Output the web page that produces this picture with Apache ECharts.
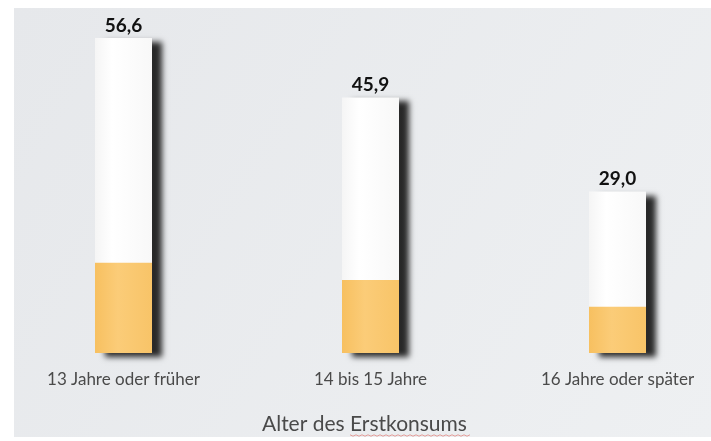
<!DOCTYPE html>
<html><head><meta charset="utf-8">
<script src="https://cdn.jsdelivr.net/npm/echarts@6/dist/echarts.min.js"></script>
<style>html,body{margin:0;padding:0;background:#fff}#c{width:711px;height:441px}</style>
</head><body><div id="c"></div>
<script>
var categories = ['13 Jahre oder früher', '14 bis 15 Jahre', '16 Jahre oder später'];
var totalValues = [56.6, 45.9, 29.0];
var filterValues = [16.2, 13.1, 8.3];
var axisTitle = 'Alter des Erstkonsums';

var FONT = 'Lato, "Open Sans", sans-serif';
var squiggle = [];
for (var i = 0; i <= 40; i++) { squiggle.push([350 + i * 3, 435 + (i % 2 ? 1.2 : -0.2)]); }

var chart = echarts.init(document.getElementById('c'), null, {renderer: 'canvas'});
chart.setOption({
  animation: false,
  backgroundColor: '#ffffff',
  graphic: [{
    type: 'rect', z: -10, silent: true,
    shape: {x: 14, y: 8, width: 697, height: 429},
    style: {fill: new echarts.graphic.LinearGradient(0, 0, 1, 1, [
      {offset: 0, color: '#e6e8eb'}, {offset: 1, color: '#eef0f2'}])}
  }, {
    type: 'text', left: 262, top: 414,
    style: {text: axisTitle, font: '21px ' + FONT, fill: '#4a4a4a'}
  }, {
    type: 'polyline', silent: true,
    shape: {points: squiggle},
    style: {stroke: 'rgba(220,90,80,0.55)', lineWidth: 1, fill: null}
  }],
  grid: {left: 0, top: 19, width: 741, height: 334, containLabel: false, outerBoundsMode: 'none'},
  xAxis: {
    type: 'category', data: categories,
    axisLine: {show: false}, axisTick: {show: false},
    axisLabel: {color: '#4a4a4a', fontSize: 17, fontFamily: FONT, margin: 18}
  },
  yAxis: {type: 'value', min: 0, max: 60, show: false, splitLine: {show: false}},
  series: [{
    type: 'bar', data: totalValues, barWidth: 57, barGap: '-100%',
    itemStyle: {
      color: new echarts.graphic.LinearGradient(0, 0, 1, 0, [
        {offset: 0, color: '#f5f5f5'}, {offset: 0.3, color: '#ffffff'}, {offset: 1, color: '#f8f8f8'}]),
      shadowColor: 'rgba(30,30,30,0.95)', shadowBlur: 6, shadowOffsetX: 10, shadowOffsetY: 4
    },
    label: {
      show: true, position: 'top', distance: 3,
      formatter: function (p) { return p.value.toFixed(1).replace('.', ','); },
      color: '#111', fontWeight: 'bold', fontSize: 19, fontFamily: FONT
    }
  }, {
    type: 'bar', data: filterValues, barWidth: 57, barGap: '-100%',
    itemStyle: {
      color: new echarts.graphic.LinearGradient(0, 0, 1, 0, [
        {offset: 0, color: '#f7c060'}, {offset: 0.4, color: '#fbcc78'}, {offset: 1, color: '#f8c468'}])
    }
  }]
});
</script></body></html>
